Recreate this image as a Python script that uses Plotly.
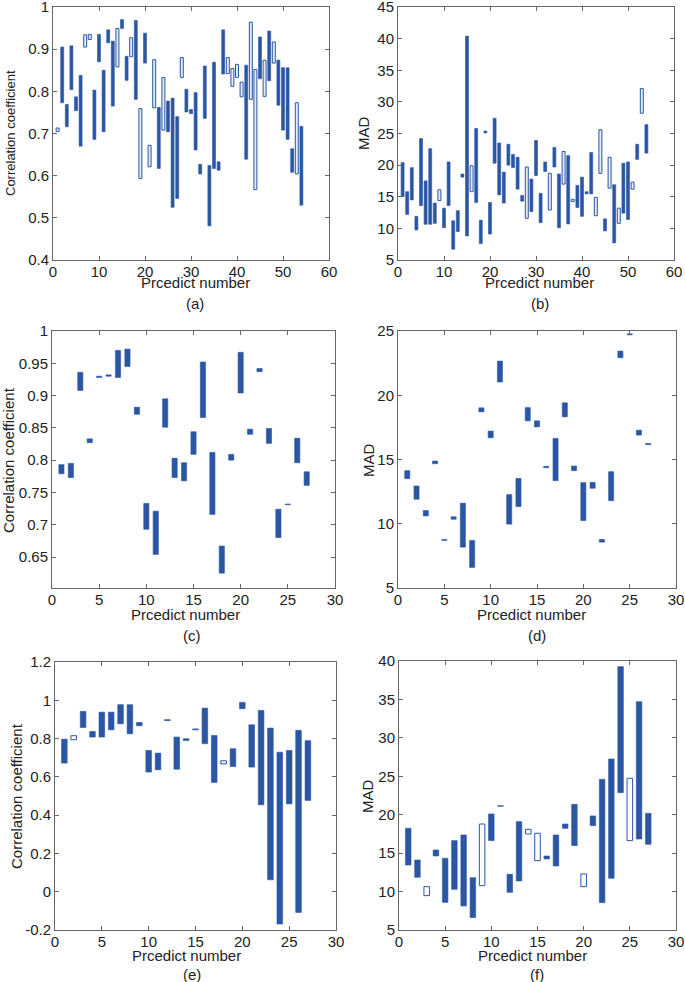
import plotly.graph_objects as go

W, H = 685, 982
BLUE = "#2a56a4"
FONT = "Liberation Sans, Arial, sans-serif"

# ---------------- data ----------------
# (a) correlation coefficient, 54 predictions
a_hi = [0.713, 0.905, 0.769, 0.908, 0.787, 0.838, 0.934, 0.935, 0.803, 0.935,
        0.850, 0.946, 0.919, 0.949, 0.970, 0.883, 0.927, 0.968, 0.759, 0.938,
        0.672, 0.875, 0.762, 0.833, 0.777, 0.784, 0.740, 0.880, 0.805, 0.757,
        0.797, 0.627, 0.860, 0.624, 0.869, 0.633, 0.946, 0.880, 0.854, 0.864,
        0.822, 0.862, 0.964, 0.852, 0.929, 0.874, 0.943, 0.917, 0.874, 0.856,
        0.856, 0.664, 0.773, 0.717]
a_lo = [0.705, 0.773, 0.716, 0.804, 0.754, 0.670, 0.905, 0.923, 0.686, 0.870,
        0.704, 0.915, 0.765, 0.858, 0.949, 0.826, 0.882, 0.781, 0.593, 0.867,
        0.621, 0.761, 0.617, 0.708, 0.704, 0.525, 0.546, 0.833, 0.751, 0.747,
        0.661, 0.604, 0.736, 0.481, 0.617, 0.613, 0.841, 0.842, 0.812, 0.833,
        0.787, 0.639, 0.781, 0.567, 0.830, 0.788, 0.825, 0.867, 0.767, 0.708,
        0.686, 0.608, 0.604, 0.530]
a_hollow = [1, 7, 8, 14, 17, 19, 21, 22, 24, 28, 38, 39, 40, 41, 43, 44, 46, 48, 53]

# (b) MAD, 54 predictions
b_hi = [20.4, 15.8, 19.6, 11.9, 24.2, 17.5, 22.6, 14.0, 16.1, 13.2,
        20.5, 11.2, 12.8, 18.6, 40.4, 19.9, 25.8, 11.3, 25.4, 14.1,
        27.4, 23.5, 18.9, 23.3, 21.7, 21.25, 15.2, 19.7, 17.8, 23.9,
        15.55, 20.5, 18.7, 22.8, 18.6, 22.15, 21.5, 14.6, 16.8, 18.1,
        15.8, 22.0, 14.9, 25.6, 11.5, 21.25, 16.9, 13.2, 20.3, 20.5,
        17.3, 23.3, 32.1, 26.4]
b_lo = [15.0, 12.2, 14.5, 9.75, 13.6, 10.65, 10.65, 10.8, 14.4, 10.1,
        13.6, 6.7, 9.5, 18.1, 8.8, 15.8, 14.1, 7.6, 25.1, 9.1,
        20.3, 15.3, 14.0, 20.0, 19.6, 16.2, 14.3, 11.6, 12.65, 18.35,
        10.9, 19.0, 12.9, 19.7, 10.1, 17.0, 10.7, 14.25, 13.3, 11.9,
        15.45, 15.45, 12.0, 18.7, 9.6, 16.35, 7.7, 10.8, 12.4, 11.4,
        16.2, 20.9, 28.2, 21.9]
b_hollow = [9, 16, 28, 33, 36, 38, 43, 44, 46, 48, 51, 53]

# (c) correlation coefficient, 27 predictions
c_hi = [0.793, 0.795, 0.936, 0.833, 0.930, 0.932, 0.970, 0.972, 0.882, 0.733,
        0.721, 0.895, 0.803, 0.796, 0.844, 0.952, 0.812, 0.667, 0.809, 0.967,
        0.848, 0.942, 0.849, 0.724, 0.732, 0.834, 0.782]
c_lo = [0.779, 0.773, 0.908, 0.827, 0.928, 0.930, 0.928, 0.945, 0.871, 0.693,
        0.654, 0.851, 0.773, 0.768, 0.809, 0.866, 0.716, 0.625, 0.800, 0.904,
        0.840, 0.937, 0.826, 0.680, 0.731, 0.796, 0.761]
c_hollow = []

# (d) MAD, 27 predictions
d_hi = [14.13, 12.94, 11.03, 14.88, 8.78, 10.54, 11.60, 8.70, 19.02, 17.21,
        22.66, 12.27, 13.53, 19.04, 18.01, 14.47, 16.64, 19.41, 14.49, 13.20,
        13.22, 8.78, 14.05, 23.44, 24.78, 17.28, 16.25]
d_lo = [13.51, 11.91, 10.61, 14.67, 8.70, 10.35, 8.18, 6.60, 18.71, 16.69,
        21.03, 9.97, 11.34, 18.01, 17.54, 14.36, 13.35, 18.32, 14.13, 10.25,
        12.76, 8.57, 11.80, 22.92, 24.70, 16.90, 16.15]
d_hollow = []

# (e) correlation coefficient, 27 predictions
e_hi = [0.797, 0.815, 0.942, 0.837, 0.938, 0.938, 0.977, 0.977, 0.884, 0.738,
        0.724, 0.898, 0.808, 0.799, 0.850, 0.959, 0.816, 0.684, 0.747, 0.989,
        0.872, 0.947, 0.855, 0.729, 0.738, 0.843, 0.789]
e_lo = [0.672, 0.794, 0.858, 0.808, 0.808, 0.846, 0.877, 0.825, 0.867, 0.625,
        0.637, 0.895, 0.640, 0.790, 0.846, 0.773, 0.571, 0.668, 0.654, 0.956,
        0.651, 0.454, 0.062, -0.169, 0.459, -0.108, 0.477]
e_hollow = [2, 12, 15, 18]

# (f) MAD, 27 predictions
f_hi = [18.23, 14.11, 10.64, 15.41, 14.33, 16.63, 17.36, 11.81, 18.79, 20.10,
        21.18, 12.25, 19.10, 18.10, 17.58, 14.63, 17.36, 18.79, 21.35, 12.29,
        19.84, 24.61, 27.25, 39.26, 24.74, 34.71, 20.18]
f_lo = [13.46, 11.86, 9.47, 14.63, 8.60, 10.29, 8.13, 6.61, 10.77, 16.63,
        21.09, 9.90, 11.38, 17.49, 14.02, 14.24, 13.33, 18.23, 15.98, 10.64,
        18.58, 8.56, 11.73, 22.87, 16.63, 16.84, 16.15]
f_hollow = [3, 9, 14, 15, 20, 25]

# tick values / labels
corr_ticks_a = [0.4, 0.5, 0.6, 0.7, 0.8, 0.9, 1.0]
corr_text_a = ["0.4", "0.5", "0.6", "0.7", "0.8", "0.9", "1"]
corr_ticks_c = [0.65, 0.7, 0.75, 0.8, 0.85, 0.9, 0.95, 1.0]
corr_text_c = ["0.65", "0.7", "0.75", "0.8", "0.85", "0.9", "0.95", "1"]
corr_ticks_e = [-0.2, 0, 0.2, 0.4, 0.6, 0.8, 1.0, 1.2]
corr_text_e = ["-0.2", "0", "0.2", "0.4", "0.6", "0.8", "1", "1.2"]
mad_ticks_b = [5, 10, 15, 20, 25, 30, 35, 40, 45]
mad_ticks_d = [5, 10, 15, 20, 25]
mad_ticks_f = [5, 10, 15, 20, 25, 30, 35, 40]
x_ticks_54 = [0, 10, 20, 30, 40, 50, 60]
x_ticks_27 = [0, 5, 10, 15, 20, 25, 30]

# ---------------- layout helpers ----------------
def dx(p0, p1):
    return [p0 / W, p1 / W]

def dy(p_top, p_bot):
    return [1 - p_bot / H, 1 - p_top / H]

panels = [
    ("a", a_hi, a_lo, a_hollow, 0.65, (53, 329, 7, 260), [0, 60], [0.4, 1.0], x_ticks_54, corr_ticks_a, corr_text_a, "#e4ebf7"),
    ("b", b_hi, b_lo, b_hollow, 0.65, (398, 674, 7, 260), [0, 60], [5, 45], x_ticks_54, mad_ticks_b, [str(v) for v in mad_ticks_b], "#e4ebf7"),
    ("c", c_hi, c_lo, c_hollow, 0.55, (52, 335, 331, 588), [0, 30], [0.602, 1.0], x_ticks_27, corr_ticks_c, corr_text_c, "white"),
    ("d", d_hi, d_lo, d_hollow, 0.55, (398, 676, 331, 588), [0, 30], [5, 25], x_ticks_27, mad_ticks_d, [str(v) for v in mad_ticks_d], "white"),
    ("e", e_hi, e_lo, e_hollow, 0.6, (55, 336, 662, 930), [0, 30], [-0.2, 1.2], x_ticks_27, corr_ticks_e, corr_text_e, "white"),
    ("f", f_hi, f_lo, f_hollow, 0.6, (399, 676, 661, 930), [0, 30], [5, 40], x_ticks_27, mad_ticks_f, [str(v) for v in mad_ticks_f], "white"),
]

fig = go.Figure()
layout = {}
axis_common = dict(showline=True, linecolor="#666666", linewidth=1, mirror="ticks",
                   ticks="inside", ticklen=4, tickcolor="#666666", showgrid=False,
                   zeroline=False, automargin=False, ticklabeloverflow="allow",
                   tickfont=dict(family=FONT, size=15, color="#222222"),
                   fixedrange=True)

for i, (name, hi, lo, hollow, bw, box, xr, yr, xt, yt, ytx, hfill) in enumerate(panels):
    n = i + 1
    xa = "x" if n == 1 else f"x{n}"
    ya = "y" if n == 1 else f"y{n}"
    xs = list(range(1, len(hi) + 1))
    fx = [x for x in xs if x not in hollow]
    hx = [x for x in xs if x in hollow]
    fig.add_trace(go.Bar(x=fx, base=[lo[x - 1] for x in fx],
                         y=[hi[x - 1] - lo[x - 1] for x in fx], width=bw,
                         marker=dict(color=BLUE, line=dict(color=BLUE, width=0.6)),
                         xaxis=xa, yaxis=ya, showlegend=False))
    if hx:
        fig.add_trace(go.Bar(x=hx, base=[lo[x - 1] for x in hx],
                             y=[hi[x - 1] - lo[x - 1] for x in hx], width=bw,
                             marker=dict(color=hfill, line=dict(color=BLUE, width=1)),
                             xaxis=xa, yaxis=ya, showlegend=False))
    x0, x1, y0, y1 = box
    layout["xaxis" if n == 1 else f"xaxis{n}"] = dict(
        axis_common, domain=dx(x0, x1), range=xr, anchor=ya,
        tickvals=xt, ticktext=[str(v) for v in xt], ticklabelstandoff=-2)
    layout["yaxis" if n == 1 else f"yaxis{n}"] = dict(
        axis_common, domain=dy(y0, y1), range=yr, anchor=xa,
        tickvals=yt, ticktext=ytx)

fig.update_layout(**layout)

ann = []
def text(x, y, s, size=15, angle=0):
    ann.append(dict(x=x / W, y=1 - y / H, xref="paper", yref="paper", text=s,
                    showarrow=False, textangle=angle, xanchor="center", yanchor="middle",
                    font=dict(family=FONT, size=size, color="#222222")))

x_title = "Prcedict number"
text(195, 283, x_title); text(195, 303, "(a)")
text(539, 283, x_title); text(540, 303, "(b)")
text(185, 614, x_title); text(192, 635, "(c)")
text(531, 614, x_title); text(537, 635, "(d)")
text(187, 955, x_title); text(192, 974, "(e)")
text(532, 955, x_title); text(537, 974, "(f)")
text(11, 133, "Correlation coefficient", size=13, angle=-90)
text(364, 133, "MAD", angle=-90)
text(8, 460, "Correlation coefficient", angle=-90)
text(368, 460, "MAD", angle=-90)
text(16, 796, "Correlation coefficient", angle=-90)
text(367, 796, "MAD", angle=-90)

fig.update_layout(annotations=ann, width=W, height=H, barmode="overlay",
                  template="none",
                  margin=dict(l=0, r=0, t=0, b=0, autoexpand=False),
                  paper_bgcolor="white", plot_bgcolor="white",
                  font=dict(family=FONT, size=15))

fig.write_html("out.html", config={"displayModeBar": False, "staticPlot": True},
               post_script="document.body.style.margin='0';document.body.style.overflow='hidden';")
